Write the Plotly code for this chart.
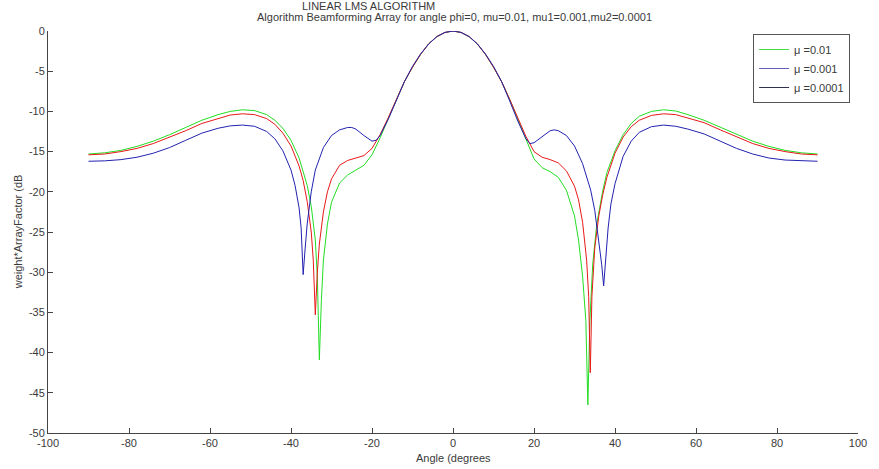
import plotly.graph_objects as go

# ---------------- data ----------------
green_angle = [-90, -86, -82, -78, -74, -70, -66, -62, -58, -55, -52, -49, -46, -44, -42, -40, -38, -36, -35, -34,
               -33.5, -33, -32.5, -32, -31, -30, -28, -26, -24, -22, -20, -18, -16, -14, -12, -10, -8, -6, -4, -2,
               0, 2, 4, 6, 8, 10, 12, 14, 16, 18, 20, 22, 24, 26, 28, 30, 31, 32, 32.8, 33.3, 33.8, 34.5, 35.5,
               37, 38, 40, 42, 44, 46, 49, 52, 55, 58, 62, 66, 70, 74, 78, 82, 86, 90]
green_db = [-15.3, -15.15, -14.85, -14.35, -13.7, -12.9, -12.0, -11.1, -10.4, -10.0, -9.8, -9.9, -10.4, -11.1,
            -12.1, -13.6, -15.8, -19.2, -21.8, -26.0, -30.5, -40.9, -33.5, -28.5, -24.0, -21.3, -18.9, -17.9,
            -17.3, -16.7, -15.4, -13.3, -10.9, -8.5, -6.3, -4.5, -2.9, -1.6, -0.7, -0.18,
            0.0, -0.18, -0.7, -1.6, -2.9, -4.5, -6.3, -8.5, -10.9, -13.4, -15.9, -17.0, -17.5, -18.2, -19.8,
            -23.0, -26.0, -30.5, -36.0, -46.5, -36.0, -29.0, -24.0, -19.8, -17.6, -14.9, -12.9, -11.5, -10.6,
            -10.0, -9.8, -9.95, -10.4, -11.1, -12.0, -12.9, -13.7, -14.35, -14.85, -15.15, -15.3]

red_angle = [-90, -86, -82, -78, -74, -70, -66, -62, -58, -55, -52, -49, -46, -44, -42, -40, -38, -37, -36, -35,
             -34.5, -34, -33.5, -33, -32, -31, -30, -28, -26, -24, -22, -20, -18, -16, -14, -12, -10, -8, -6, -4, -2,
             0, 2, 4, 6, 8, 10, 12, 14, 16, 18, 20, 22, 24, 26, 28, 30, 31, 32, 33, 33.5, 33.9, 34.3, 35, 36, 37,
             38, 40, 42, 44, 46, 49, 52, 55, 58, 62, 66, 70, 74, 78, 82, 86, 90]
red_db = [-15.4, -15.3, -15.0, -14.6, -14.0, -13.25, -12.4, -11.5, -10.85, -10.45, -10.3, -10.4, -10.9, -11.6,
          -12.7, -14.3, -16.8, -18.6, -21.2, -25.0, -28.5, -35.3, -30.0, -26.5, -22.5, -20.0, -18.4, -16.7, -16.1,
          -15.8, -15.5, -14.6, -12.9, -10.8, -8.5, -6.3, -4.5, -2.9, -1.6, -0.7, -0.18,
          0.0, -0.18, -0.7, -1.6, -2.9, -4.5, -6.3, -8.5, -10.9, -13.1, -15.0, -15.7, -16.0, -16.4, -17.4,
          -19.3, -21.0, -23.8, -28.5, -33.0, -42.5, -33.0, -27.0, -23.0, -20.3, -18.2, -15.2, -13.2, -11.9,
          -11.1, -10.5, -10.3, -10.4, -10.8, -11.4, -12.3, -13.2, -14.0, -14.6, -15.0, -15.3, -15.4]

blue_angle = [-90, -86, -82, -78, -74, -70, -66, -62, -58, -55, -52, -49, -46, -44, -42, -40, -39, -38, -37.5, -37,
              -36.5, -36, -35, -34, -32, -30, -28, -26, -25, -24, -22, -20, -19, -18, -16, -14, -12, -10, -8, -6,
              -4, -2, 0, 2, 4, 6, 8, 10, 12, 14, 16, 18, 19, 20, 22, 24, 25, 26, 28, 30, 32, 34, 35, 36, 36.7,
              37.2, 37.7, 38.3, 39, 40, 42, 44, 46, 49, 52, 55, 58, 62, 66, 70, 74, 78, 82, 86, 90]
blue_db = [-16.2, -16.15, -16.0, -15.7, -15.2, -14.5, -13.6, -12.7, -12.1, -11.8, -11.7, -11.85, -12.5, -13.4,
           -14.9, -17.3, -19.2, -22.0, -24.5, -30.3, -27.0, -24.0, -20.0, -17.3, -14.5, -13.0, -12.3, -12.0, -12.0,
           -12.2, -13.0, -13.7, -13.6, -13.0, -11.0, -8.6, -6.3, -4.4, -2.85, -1.6, -0.7, -0.18,
           0.0, -0.18, -0.7, -1.6, -2.85, -4.4, -6.3, -8.7, -11.2, -13.4, -14.0, -13.9, -13.1, -12.4, -12.3,
           -12.4, -13.0, -14.3, -16.5, -19.8, -22.3, -26.0, -29.0, -31.7, -28.0, -24.5, -21.5, -19.0, -15.6,
           -13.7, -12.6, -11.9, -11.7, -11.85, -12.2, -12.8, -13.7, -14.6, -15.3, -15.8, -16.05, -16.15, -16.2]

legend_labels = ["\u03bc =0.01", "\u03bc =0.001", "\u03bc =0.0001"]
x_ticks = [-100, -80, -60, -40, -20, 0, 20, 40, 60, 80, 100]
y_ticks = [0, -5, -10, -15, -20, -25, -30, -35, -40, -45, -50]

# ---------------- figure ----------------
FONT = "Liberation Sans, Arial, Helvetica, sans-serif"
TXT = "#3a3a3a"

fig = go.Figure()
fig.add_trace(go.Scatter(x=green_angle, y=green_db, mode="lines",
                         line=dict(color="#22dd22", width=1), showlegend=False))
fig.add_trace(go.Scatter(x=red_angle, y=red_db, mode="lines",
                         line=dict(color="#e81818", width=1), showlegend=False))
fig.add_trace(go.Scatter(x=blue_angle, y=blue_db, mode="lines",
                         line=dict(color="#2222b0", width=1), showlegend=False))

# legend entries (as they appear in the reference)
for lab, col in zip(legend_labels, ["#44dd44", "#6060b8", "#303050"]):
    fig.add_trace(go.Scatter(x=[None], y=[None], mode="lines", name=lab,
                             line=dict(color=col, width=1), showlegend=True))

W, H = 879, 469
L, R, T, B = 48, 879 - 866, 31, 469 - 433
pw, ph = W - L - R, H - T - B

def px(xpix):
    return (xpix - L) / pw

def py(ypix):
    return (H - B - ypix) / ph

fig.update_layout(
    width=W, height=H,
    margin=dict(l=L, r=R, t=T, b=B),
    paper_bgcolor="white", plot_bgcolor="white",
    font=dict(family=FONT, size=11, color=TXT),
    xaxis=dict(range=[-100, 100], tickvals=x_ticks, ticktext=[str(v) for v in x_ticks],
               showgrid=False, zeroline=False, showline=True, linecolor="#444444", linewidth=1,
               ticks="inside", ticklen=5, tickcolor="#444444", tickfont=dict(size=11, color=TXT)),
    yaxis=dict(range=[-50, 0], tickvals=y_ticks, ticktext=[str(v) for v in y_ticks],
               showgrid=False, zeroline=False, showline=True, linecolor="#444444", linewidth=1,
               ticks="inside", ticklen=5, tickcolor="#444444", tickfont=dict(size=11, color=TXT)),
    legend=dict(x=px(858), y=py(34), xanchor="right", yanchor="top",
                bordercolor="#555555", borderwidth=1, bgcolor="white",
                font=dict(size=11, color=TXT), tracegroupgap=0, itemwidth=30),
    showlegend=True,
)

fig.add_annotation(text="LINEAR LMS ALGORITHM", x=px(372), y=py(6), xref="paper", yref="paper",
                   showarrow=False, xanchor="center", yanchor="middle", font=dict(size=11, color=TXT))
fig.add_annotation(text="Algorithm Beamforming Array for angle phi=0, mu=0.01, mu1=0.001,mu2=0.0001",
                   x=px(459), y=py(17), xref="paper", yref="paper",
                   showarrow=False, xanchor="center", yanchor="middle", font=dict(size=11, color=TXT))
fig.add_annotation(text="Angle (degrees", x=px(457), y=py(458), xref="paper", yref="paper",
                   showarrow=False, xanchor="center", yanchor="middle", font=dict(size=11, color=TXT))
fig.add_annotation(text="weight*ArrayFactor (dB", x=px(18), y=py(232), xref="paper", yref="paper",
                   showarrow=False, xanchor="center", yanchor="middle", textangle=-90,
                   font=dict(size=11, color=TXT))

# remove the browser's default 8px body margin so the figure sits at the page origin
fig.write_html("out.html", config={"displayModeBar": False},
               post_script="document.body.style.margin='0px';")
